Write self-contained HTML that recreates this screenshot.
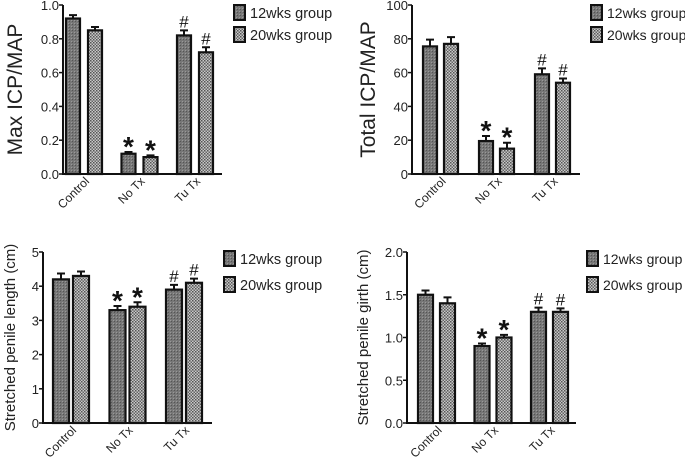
<!DOCTYPE html>
<html><head><meta charset="utf-8"><style>
body{margin:0;background:#fff;}
svg{display:block;font-family:"Liberation Sans",sans-serif;}
</style></head><body>
<svg id="c" width="685" height="463" viewBox="0 0 685 463">
<defs>
<pattern id="p12" width="3" height="3" patternUnits="userSpaceOnUse"><rect width="3" height="3" fill="#777"/><rect width="1" height="1" fill="#555"/><rect x="2" y="2" width="1" height="1" fill="#999"/></pattern>
<pattern id="p20" width="3" height="3" patternUnits="userSpaceOnUse"><rect width="3" height="3" fill="#c8c8c8"/><rect width="1.5" height="1.5" fill="#555"/><rect x="1.5" y="1.5" width="1.5" height="1.5" fill="#666"/></pattern>
</defs>
</svg>
<script>
const categories=["Control","No Tx","Tu Tx"];
const seriesNames=["12wks group","20wks group"];
const maxIcp12=[0.92,0.12,0.82], maxIcp20=[0.85,0.10,0.72];
const maxIcpErr12=[0.02,0.01,0.03], maxIcpErr20=[0.02,0.01,0.03];
const totIcp12=[75.5,19.5,59], totIcp20=[77,15,54];
const totIcpErr12=[4,3,3.5], totIcpErr20=[4,3.5,2.5];
const len12=[4.2,3.3,3.9], len20=[4.3,3.4,4.1];
const lenErr12=[0.17,0.12,0.14], lenErr20=[0.13,0.13,0.12];
const girth12=[1.5,0.9,1.3], girth20=[1.4,1.0,1.3];
const girthErr12=[0.05,0.03,0.05], girthErr20=[0.07,0.03,0.04];
const marks12=["","*","#"], marks20=["","*","#"];
const ticksA=["0.0","0.2","0.4","0.6","0.8","1.0"];
const ticksB=["0","20","40","60","80","100"];
const ticksC=["0","1","2","3","4","5"];
const ticksD=["0.0","0.5","1.0","1.5","2.0"];
const svg=document.getElementById('c');
const NS="http://www.w3.org/2000/svg";
function mk(tag,attrs,parent,text){const e=document.createElementNS(NS,tag);for(const k in attrs)e.setAttribute(k,attrs[k]);if(text!==undefined)e.textContent=text;parent.appendChild(e);return e;}
function panel(cfg){
  const g=mk('g',{},svg);
  
  
  const y=v=>cfg.y0-(v-cfg.min)/(cfg.max-cfg.min)*(cfg.y0-cfg.yTop);
  const bw=cfg.bw;
  categories.forEach((c,i)=>{
    [[cfg.s12,cfg.e12,'url(#p12)',0,marks12],[cfg.s20,cfg.e20,'url(#p20)',1,marks20]].forEach(([s,e,f,k,mkArr])=>{
      const x=cfg.x0+cfg.off+i*cfg.gstep+k*cfg.bstep;
      const top=y(s[i]), et=y(s[i]+e[i]);
      const eb=mk('path',{d:`M${x+bw/2} ${top}V${et}M${x+bw/2-4} ${et}H${x+bw/2+4}`,stroke:'#111','stroke-width':2,fill:'none'},g);
      
      
      const r=mk('rect',{x:x,y:top,width:bw,height:cfg.y0-top,fill:f,stroke:'#111','stroke-width':2.2},g);
      
      
      if(mkArr[i]){const star=mkArr[i]==='*';
        const t=mk('text',{x:x+bw/2,y:et-(star?-4:3),'text-anchor':'middle','font-size':star?28:17,'font-weight':star?'bold':'normal',fill:'#111'},g,mkArr[i]);
        
        }
    });
    const lx=cfg.x0+cfg.off+i*cfg.gstep+cfg.bstep/2+bw/2+6, ly=cfg.y0+8;
    const t=mk('text',{x:lx,y:ly,'text-anchor':'end','font-size':12,fill:'#222',transform:`rotate(-45 ${lx} ${ly})`},g,c);
    
    
  });
  const ax=mk('path',{d:`M${cfg.x0} ${cfg.yTop}V${cfg.y0}H${cfg.xEnd}`,stroke:'#111','stroke-width':2,fill:'none'},g);
  
  
  cfg.ticks.forEach(tv=>{
    const yy=y(parseFloat(tv));
    mk('line',{x1:cfg.x0-4,x2:cfg.x0,y1:yy,y2:yy,stroke:'#111','stroke-width':1.5},g);
    const t=mk('text',{x:cfg.x0-4,y:yy+5,'text-anchor':'end','font-size':13,fill:'#222'},g,tv);
    
    
  });
  const tx=cfg.titleX, ty=(cfg.y0+cfg.yTop)/2;
  const tt=mk('text',{x:tx,y:ty,'text-anchor':'middle','font-size':cfg.titleSize,fill:'#222',transform:`rotate(-90 ${tx} ${ty})`},g,cfg.title);
  
  
  seriesNames.forEach((n,k)=>{
    const ly=cfg.legY+k*cfg.legStep;
    const lg=mk('g',{},g);
    
    
    mk('rect',{x:cfg.legX,y:ly,width:11,height:15,fill:k?'url(#p20)':'url(#p12)',stroke:'#111','stroke-width':2},lg);
    mk('text',{x:cfg.legX+16,y:ly+13,'font-size':cfg.legSize,fill:'#222'},lg,n);
  });
}
panel({name:'max-icp-chart',x0:63,xEnd:222,y0:174,yTop:5,min:0,max:1,off:3,gstep:55.5,bstep:22,bw:14,s12:maxIcp12,s20:maxIcp20,e12:maxIcpErr12,e20:maxIcpErr20,ticks:ticksA,title:'Max ICP/MAP',titleX:22,titleSize:21,legX:234,legY:5,legStep:22,legSize:14.5});
panel({name:'total-icp-chart',x0:412,xEnd:580,y0:174,yTop:5,min:0,max:100,off:11,gstep:56,bstep:21,bw:14,s12:totIcp12,s20:totIcp20,e12:totIcpErr12,e20:totIcpErr20,ticks:ticksB,title:'Total ICP/MAP',titleX:375,titleSize:21,legX:591,legY:5,legStep:22,legSize:14});
panel({name:'penile-length-chart',x0:43,xEnd:212,y0:423,yTop:252,min:0,max:5,off:10,gstep:56.5,bstep:20,bw:16,s12:len12,s20:len20,e12:lenErr12,e20:lenErr20,ticks:ticksC,title:'Stretched penile length (cm)',titleX:15,titleSize:15,legX:224,legY:251,legStep:26,legSize:14.5});
panel({name:'penile-girth-chart',x0:407,xEnd:576,y0:423,yTop:252,min:0,max:2,off:11,gstep:56.5,bstep:22,bw:15,s12:girth12,s20:girth20,e12:girthErr12,e20:girthErr20,ticks:ticksD,title:'Stretched penile girth (cm)',titleX:368,titleSize:15,legX:587,legY:251,legStep:26,legSize:14});
</script>
</body></html>
